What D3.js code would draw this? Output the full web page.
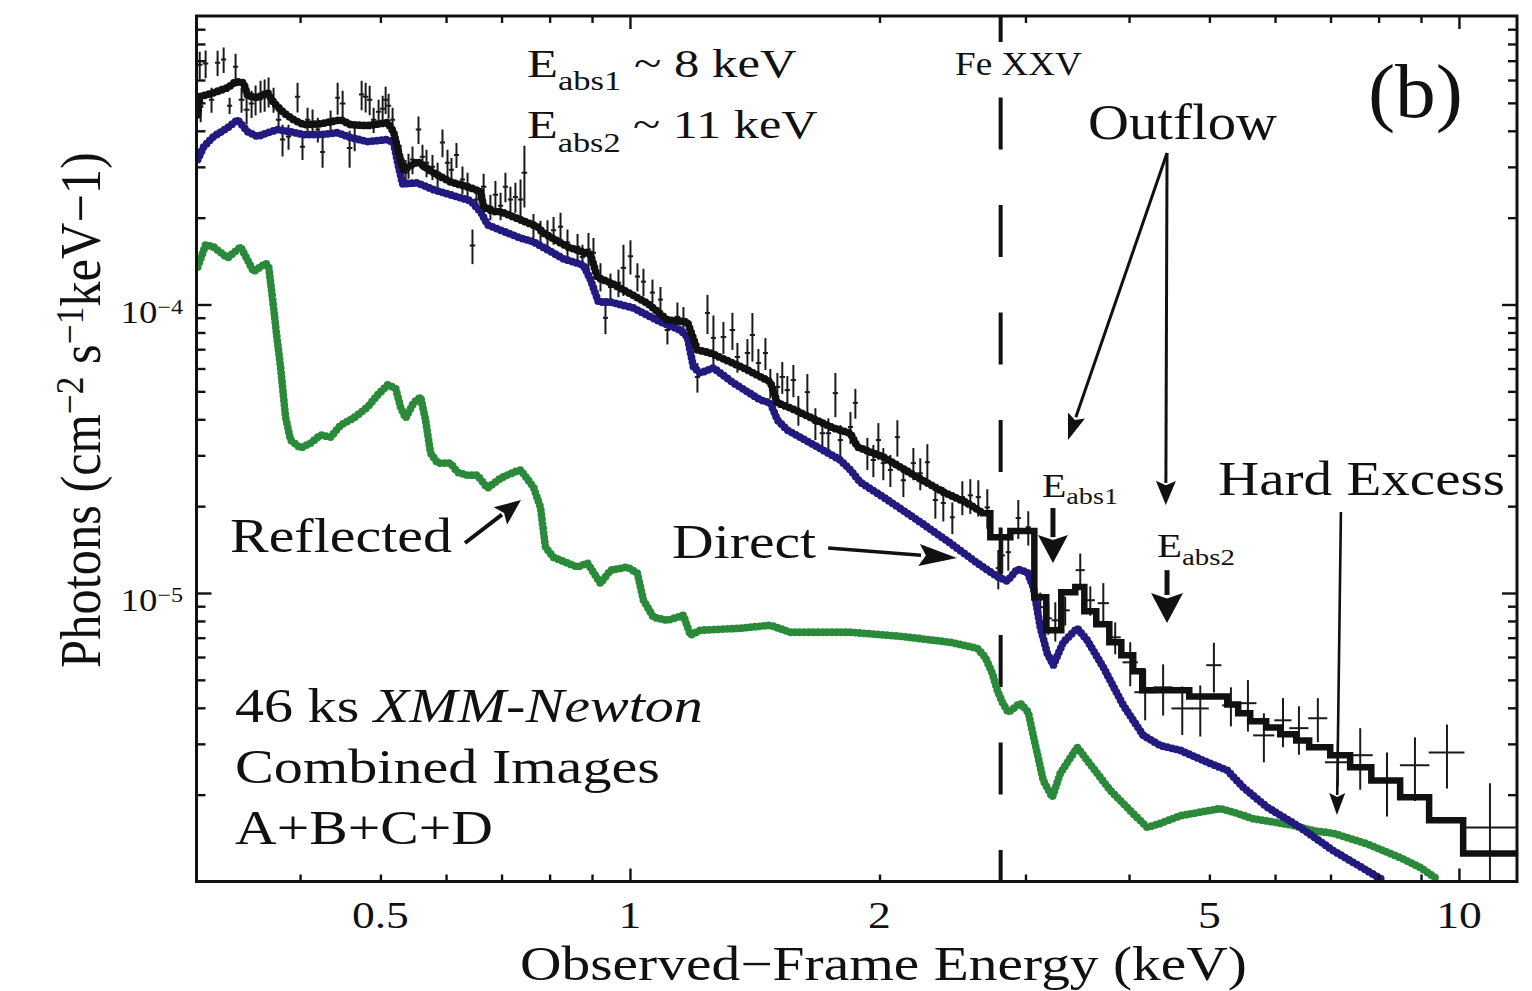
<!DOCTYPE html>
<html>
<head>
<meta charset="utf-8">
<script src="https://cdn.jsdelivr.net/npm/d3@7"></script>
<style>
  html, body { margin: 0; padding: 0; background: #fff; }
  svg { display: block; font-family: "Liberation Serif", "Times New Roman", serif; }
</style>
</head>
<body>
<svg id="chart" width="1532" height="991"></svg>
<script>
// ---------------------------------------------------------------
// Axis limits and ticks
// ---------------------------------------------------------------
const energyRange = [0.3, 11.75];          // keV
const fluxRange = [1e-6, 1e-3];            // photons cm^-2 s^-1 keV^-1
const xLabelTicks = [0.5, 1, 2, 5, 10];
const xLabelText = ["0.5", "1", "2", "5", "10"];
const xMajorTicks = [1, 10];
const xMinorTicks = [0.4, 0.5, 0.6, 0.7, 0.8, 0.9, 2, 3, 4, 5, 6, 7, 8, 9];
const yMajorTicks = [1e-5, 1e-4];
const yMajorExponent = ["\u22125", "\u22124"];
const yMinorTicks = [2e-6, 3e-6, 4e-6, 5e-6, 6e-6, 7e-6, 8e-6, 9e-6,
                     2e-5, 3e-5, 4e-5, 5e-5, 6e-5, 7e-5, 8e-5, 9e-5,
                     2e-4, 3e-4, 4e-4, 5e-4, 6e-4, 7e-4, 8e-4, 9e-4];

// ---------------------------------------------------------------
// Binned spectrum (combined images A+B+C+D)
// ---------------------------------------------------------------
const dataEnergy = [
  0.3027,0.3035,0.3077,0.3128,0.3181,0.3235,0.3289,0.3344,0.3400,0.3448,
  0.3496,0.3535,0.3584,0.3625,0.3665,0.3716,0.3768,0.3810,0.3874,0.3972,
  0.4027,0.4084,0.4141,0.4202,0.4258,0.4354,0.4440,0.4502,0.4590,0.4655,
  0.4746,0.4799,0.4853,0.4907,0.4975,0.5031,0.5073,0.5115,0.5172,0.5288,
  0.5362,0.5406,0.5466,0.5558,0.5620,0.5683,0.5778,0.5861,0.5941,0.6024,
  0.6091,0.6176,0.6280,0.6369,0.6457,0.6529,0.6660,0.6787,0.6882,0.6981,
  0.7076,0.7175,0.7275,0.7379,0.7459,0.7649,0.7800,0.7953,0.8088,0.8246,
  0.8407,0.8645,0.8764,0.8912,0.9036,0.9214,0.9342,0.9473,0.9686,0.9821,
  1.0014,1.0210,1.0382,1.0645,1.0884,1.1097,1.1409,1.1602,1.2061,1.2403,
  1.2609,1.2964,1.3292,1.3478,1.3858,1.4051,1.4287,1.4568,1.4768,1.5060,
  1.5267,1.5484,1.5745,1.5964,1.6368,1.6737,1.7066,1.7352,1.7693,1.7937,
  1.8450,1.8703,1.9337,1.9662,1.9937,2.0213,2.0613,2.1018,2.1371,2.1973,
  2.2398,2.2843,2.3356,2.3878,2.4484,2.5173,2.5738,2.6316,2.6981,2.7818,
  2.8128,2.8601,2.9406,3.0232,3.126,3.196,3.259,3.350,3.493,3.592,
  3.724,3.849,4.013,4.183,4.397,4.637,4.875,5.063,5.308,5.565,
  5.817,6.134,6.412,6.758,7.144,7.602,8.189,8.850,9.673,10.90
];
const dataEnergyErr = [
  0.0018,0.0018,0.0018,0.0018,0.0018,0.0018,0.0018,0.0018,0.0022,0.0022,
  0.0022,0.0022,0.0022,0.0022,0.0022,0.0022,0.0022,0.0022,0.0022,0.0022,
  0.0022,0.0022,0.0022,0.0022,0.0022,0.0022,0.0022,0.0028,0.0028,0.0028,
  0.0028,0.0028,0.0028,0.0028,0.0028,0.0028,0.0028,0.0028,0.0028,0.0028,
  0.0028,0.0028,0.0028,0.0033,0.0033,0.0033,0.0033,0.0033,0.0033,0.0033,
  0.0033,0.0033,0.0033,0.0033,0.0039,0.0039,0.0039,0.0039,0.0039,0.0039,
  0.0039,0.0039,0.0039,0.0045,0.0045,0.0045,0.0045,0.0045,0.0045,0.0045,
  0.0045,0.0050,0.0050,0.0050,0.0050,0.0050,0.0050,0.0050,0.0057,0.0057,
  0.0057,0.0057,0.0057,0.0057,0.0057,0.0067,0.0067,0.0067,0.0067,0.0067,
  0.0067,0.0078,0.0078,0.0078,0.0078,0.0078,0.0078,0.0078,0.0078,0.0090,
  0.0090,0.0090,0.0090,0.0090,0.0090,0.0100,0.0100,0.0100,0.0100,0.0100,
  0.0100,0.0100,0.0110,0.0110,0.0110,0.0110,0.0110,0.0110,0.0120,0.0120,
  0.0120,0.0120,0.0130,0.0130,0.0130,0.0145,0.0145,0.0145,0.0155,0.0155,
  0.0155,0.0155,0.0165,0.0165,0.026,0.027,0.027,0.037,0.039,0.040,
  0.052,0.053,0.078,0.117,0.110,0.129,0.108,0.098,0.118,0.124,
  0.162,0.136,0.160,0.168,0.241,0.256,0.322,0.348,0.464,0.84
];
const dataFlux = [
  6.78e-4,4.85e-4,6.84e-4,5.13e-4,6.89e-4,7.06e-4,4.89e-4,6.67e-4,5.13e-4,4.73e-4,
  4.97e-4,5.13e-4,5.29e-4,5.34e-4,5.47e-4,5.13e-4,4.37e-4,3.73e-4,3.82e-4,5.25e-4,
  3.52e-4,4.37e-4,4.27e-4,4.04e-4,3.38e-4,4.27e-4,5.21e-4,4.97e-4,3.49e-4,3.82e-4,
  5.34e-4,5.25e-4,5.13e-4,4.37e-4,4.66e-4,4.77e-4,5.13e-4,4.89e-4,4.37e-4,3.25e-4,
  2.86e-4,3.03e-4,3.18e-4,4.04e-4,3.25e-4,3.10e-4,3.00e-4,2.82e-4,3.64e-4,3.10e-4,
  2.93e-4,3.30e-4,2.71e-4,2.60e-4,1.60e-4,2.31e-4,2.56e-4,2.18e-4,2.40e-4,2.20e-4,
  2.56e-4,2.31e-4,2.36e-4,2.31e-4,2.86e-4,1.86e-4,1.77e-4,1.77e-4,1.81e-4,1.86e-4,
  1.64e-4,1.585e-4,1.46e-4,1.55e-4,1.51e-4,1.25e-4,8.99e-5,1.15e-4,1.19e-4,1.34e-4,
  1.47e-4,1.25e-4,1.20e-4,1.10e-4,1.04e-4,8.16e-5,9.06e-5,8.84e-5,5.61e-5,9.35e-5,
  7.66e-5,7.72e-5,8.16e-5,6.58e-5,6.79e-5,7.84e-5,6.27e-5,6.79e-5,5.35e-5,5.18e-5,
  5.61e-5,5.05e-5,5.47e-5,4.31e-5,4.97e-5,3.88e-5,3.58e-5,3.58e-5,4.93e-5,3.39e-5,
  3.76e-5,4.56e-5,3.06e-5,2.89e-5,3.39e-5,2.82e-5,2.67e-5,3.47e-5,2.46e-5,2.82e-5,
  2.60e-5,2.84e-5,2.10e-5,2.05e-5,1.83e-5,2.15e-5,2.18e-5,2.15e-5,1.98e-5,1.22e-5,
  1.35e-5,1.385e-5,1.82e-5,1.69e-5,8.93e-6,8.17e-6,8.04e-6,8.71e-6,1.20e-5,9.44e-6,
  9.22e-6,7.02e-6,5.75e-6,4.53e-6,4.71e-6,3.98e-6,3.98e-6,5.62e-6,4.08e-6,4.15e-6,
  3.21e-6,3.62e-6,3.40e-6,3.68e-6,2.59e-6,2.74e-6,2.24e-6,2.53e-6,2.80e-6,1.54e-6
];
const dataFluxErr = [
  7.4e-5,5.7e-5,7.5e-5,5.1e-5,6.9e-5,7.1e-5,3.2e-5,7.3e-5,5.1e-5,5.2e-5,
  5.4e-5,6.1e-5,6.7e-5,6.8e-5,6.5e-5,5.1e-5,4.4e-5,4.7e-5,3.8e-5,6.2e-5,
  3.5e-5,4.4e-5,4.7e-5,4.0e-5,4.0e-5,4.3e-5,6.6e-5,5.4e-5,5.1e-5,4.2e-5,
  6.3e-5,6.2e-5,6.0e-5,4.4e-5,4.7e-5,5.2e-5,5.6e-5,4.9e-5,4.4e-5,3.3e-5,
  3.1e-5,3.0e-5,3.5e-5,4.4e-5,3.3e-5,3.4e-5,3.0e-5,2.8e-5,4.0e-5,3.4e-5,
  2.9e-5,3.3e-5,3.0e-5,2.6e-5,2.2e-5,2.3e-5,2.8e-5,2.2e-5,2.8e-5,2.4e-5,
  3.0e-5,2.5e-5,2.8e-5,4.0e-5,6.9e-5,2.0e-5,1.8e-5,1.9e-5,2.0e-5,2.2e-5,
  1.8e-5,1.7e-5,1.5e-5,2.2e-5,1.9e-5,1.4e-5,1.1e-5,1.3e-5,1.3e-5,2.7e-5,
  2.0e-5,1.4e-5,1.3e-5,1.2e-5,1.1e-5,8.9e-6,1.1e-5,9.6e-6,6.6e-6,1.45e-5,
  1.5e-5,9.8e-6,1.2e-5,7.8e-6,8.0e-6,1.5e-5,7.4e-6,8.6e-6,6.3e-6,6.1e-6,
  7.1e-6,6.0e-6,7.0e-6,5.1e-6,7.7e-6,4.9e-6,4.2e-6,4.5e-6,8.6e-6,4.3e-6,
  4.8e-6,5.4e-6,3.9e-6,3.7e-6,4.9e-6,3.6e-6,3.4e-6,5.0e-6,3.1e-6,3.6e-6,
  3.3e-6,4.4e-6,2.9e-6,2.8e-6,2.3e-6,2.9e-6,3.0e-6,3.1e-6,3.1e-6,1.9e-6,
  1.8e-6,1.9e-6,2.8e-6,2.3e-6,1.1e-6,1.0e-6,1.25e-6,1.0e-6,1.7e-6,1.1e-6,
  1.6e-6,8.9e-7,1.0e-6,9.1e-7,9.5e-7,7.6e-7,8.0e-7,1.1e-6,6.3e-7,8.4e-7,
  6.2e-7,7.0e-7,6.5e-7,6.4e-7,4.5e-7,6.6e-7,5.6e-7,6.3e-7,7.0e-7,6.5e-7
];

// ---------------------------------------------------------------
// Model components
// ---------------------------------------------------------------
// Direct (absorbed power law) component
const directEnergy = [
  0.301,0.306,0.3145,0.3271,0.3363,0.3458,0.3555,0.3655,0.3758,0.3896,
  0.404,0.4234,0.4439,0.4603,0.4825,0.5101,0.5186,0.5259,0.5318,0.5543,
  0.5795,0.6076,0.6422,0.6604,0.6732,0.6981,0.7379,0.7649,0.8314,0.8789,
  0.8962,0.9163,0.9473,1.0097,1.0884,1.1505,1.173,1.1928,1.2162,1.2609,
  1.3327,1.4365,1.4768,1.506,1.5484,1.6829,1.7937,1.845,1.8961,2.0213,
  2.2217,2.4345,2.6242,2.7741,2.8524,2.9325,3.0151,3.0655,3.1261,3.1871,
  3.2411,3.3321,3.4641,3.5611,3.7239,3.9368,4.161,4.3623,4.6112,4.971,
  5.2541,5.4935,5.8705,6.4348,7.0522,7.7504,8.1022
];
const directFlux = [
  3.18e-4,3.52e-4,3.82e-4,4.10e-4,4.37e-4,3.97e-4,3.82e-4,3.94e-4,4.04e-4,3.97e-4,
  3.88e-4,3.88e-4,3.94e-4,3.79e-4,3.67e-4,3.73e-4,3.64e-4,3.00e-4,2.62e-4,2.64e-4,
  2.50e-4,2.40e-4,2.29e-4,2.10e-4,1.89e-4,1.81e-4,1.70e-4,1.65e-4,1.44e-4,1.37e-4,
  1.22e-4,1.02e-4,1.02e-4,9.73e-5,8.70e-5,8.16e-5,7.72e-5,6.07e-5,5.79e-5,6.03e-5,
  5.35e-5,4.67e-5,4.56e-5,3.98e-5,3.67e-5,3.21e-5,2.89e-5,2.67e-5,2.42e-5,2.15e-5,
  1.79e-5,1.49e-5,1.27e-5,1.14e-5,1.10e-5,1.21e-5,1.18e-5,1.05e-5,7.61e-6,6.18e-6,
  5.62e-6,6.75e-6,7.55e-6,6.86e-6,5.53e-6,4.08e-6,3.21e-6,2.96e-6,2.85e-6,2.59e-6,
  2.43e-6,2.12e-6,1.81e-6,1.54e-6,1.28e-6,1.09e-6,1.01e-6
];

// Reflected component
const reflectedEnergy = [
  0.301,0.3077,0.3145,0.3271,0.3391,0.3516,0.3636,0.3666,0.3707,0.3748,
  0.3789,0.3842,0.3896,0.4006,0.4119,0.4234,0.4354,0.4476,0.4641,0.4825,
  0.4961,0.5101,0.5215,0.5288,0.5362,0.5482,0.5590,0.5668,0.5747,0.5861,
  0.6076,0.6194,0.6369,0.6547,0.6732,0.6981,0.7236,0.7379,0.7649,0.7800,
  0.7909,0.8088,0.8407,0.8645,0.8887,0.9214,0.9473,0.9931,1.0210,1.0382,
  1.0674,1.1097,1.1601,1.1830,1.2162,1.3590,1.4768,1.5616,1.8450,2.1189,
  2.4345,2.6242,2.6835,2.7360,2.7741,2.8132,2.8603,2.9572,3.0234,3.0655,
  3.1520,3.2319,3.3045,3.4641,3.5611,3.7970,4.0465,4.2073,4.3623,4.6112,
  4.8745,5.1523,5.3423,5.6473,6.0363,6.3109,6.6711,7.0522,7.7504,8.4938,
  8.9785,9.4123
];
const reflectedFlux = [
  1.35e-4,1.61e-4,1.585e-4,1.45e-4,1.585e-4,1.30e-4,1.39e-4,1.35e-4,1.04e-4,7.84e-5,
  6.07e-5,4.07e-5,3.39e-5,3.18e-5,3.31e-5,3.53e-5,3.47e-5,3.82e-5,4.04e-5,4.41e-5,
  4.86e-5,5.26e-5,5.13e-5,4.41e-5,4.04e-5,4.56e-5,4.78e-5,3.98e-5,3.06e-5,2.82e-5,
  2.82e-5,2.62e-5,2.56e-5,2.56e-5,2.31e-5,2.50e-5,2.62e-5,2.67e-5,2.33e-5,1.98e-5,
  1.44e-5,1.33e-5,1.27e-5,1.23e-5,1.27e-5,1.08e-5,1.20e-5,1.23e-5,1.17e-5,9.44e-6,
  8.24e-6,8.04e-6,8.37e-6,7.14e-6,7.43e-6,7.55e-6,7.73e-6,7.31e-6,7.31e-6,7.08e-6,
  6.75e-6,6.43e-6,5.98e-6,5.27e-6,4.60e-6,4.18e-6,3.86e-6,4.15e-6,3.86e-6,3.21e-6,
  2.24e-6,1.96e-6,2.37e-6,2.92e-6,2.63e-6,2.07e-6,1.72e-6,1.54e-6,1.59e-6,1.69e-6,
  1.74e-6,1.79e-6,1.74e-6,1.65e-6,1.60e-6,1.565e-6,1.50e-6,1.47e-6,1.35e-6,1.21e-6,
  1.12e-6,1.02e-6
];

// Total model: finely sampled below 2.67 keV, then the coarse spectral bins
const totalEnergy = [
  0.3010,0.3027,0.3145,0.3271,0.3344,0.3420,0.3458,0.3555,0.3655,0.3717,
  0.3822,0.3929,0.4040,0.4234,0.4476,0.4603,0.4825,0.5101,0.5186,0.5259,
  0.5333,0.5543,0.5795,0.6076,0.6422,0.6604,0.6660,0.6846,0.6981,0.7735,
  0.7865,0.8407,0.8962,0.9138,0.9473,1.0498,1.1097,1.1730,1.2061,1.2506,
  1.3703,1.4768,1.5060,1.5616,1.7593,1.8450,1.8807,2.0213,2.2217,2.3878,
  2.5527,2.6686
];
const totalFlux = [
  4.55e-4,5.25e-4,5.42e-4,5.64e-4,5.92e-4,5.87e-4,5.29e-4,5.21e-4,5.42e-4,5.01e-4,
  4.62e-4,4.37e-4,4.20e-4,4.23e-4,4.37e-4,4.20e-4,4.17e-4,4.27e-4,3.97e-4,3.36e-4,
  2.93e-4,3.13e-4,2.86e-4,2.66e-4,2.54e-4,2.46e-4,2.18e-4,2.10e-4,2.10e-4,1.86e-4,
  1.77e-4,1.585e-4,1.49e-4,1.24e-4,1.19e-4,1.01e-4,8.84e-5,8.70e-5,6.96e-5,6.79e-5,
  6.03e-5,5.39e-5,4.56e-5,4.38e-5,3.73e-5,3.58e-5,3.21e-5,2.96e-5,2.52e-5,2.24e-5,
  2.05e-5,1.89e-5
];
const totalBinEdges = [
  2.6686,2.7208,2.8765,3.0747,3.1783,3.3137,3.4452,3.5326,3.6518,3.7865,
  3.9150,4.0465,4.1495,4.7282,5.2541,5.4165,5.6002,5.8543,6.0874,6.3638,
  6.5966,6.9940,7.3925,7.8397,8.4938,9.2050,10.118,11.75
];
const totalBinFlux = [
  1.89e-5,1.56e-5,1.64e-5,9.67e-6,7.43e-6,1.006e-5,1.05e-5,8.64e-6,7.79e-6,6.75e-6,
  6.08e-6,5.35e-6,4.60e-6,4.38e-6,4.11e-6,3.83e-6,3.59e-6,3.42e-6,3.24e-6,3.08e-6,
  2.92e-6,2.74e-6,2.49e-6,2.24e-6,1.96e-6,1.63e-6,1.25e-6
];

// Fe XXV line, observed frame
const feXXVEnergy = 2.80;

// ---------------------------------------------------------------
// Layout
// ---------------------------------------------------------------
const frame = { left: 196.5, right: 1517, top: 16, bottom: 881.5 };
const svg = d3.select("#chart");
svg.append("rect").attr("width", 1532).attr("height", 991).attr("fill", "#fff");

const x = d3.scaleLog().domain(energyRange).range([frame.left, frame.right]);
const y = d3.scaleLog().domain(fluxRange).range([frame.bottom, frame.top]);

svg.append("defs").append("clipPath").attr("id", "plotClip")
  .append("rect")
  .attr("x", frame.left).attr("y", frame.top)
  .attr("width", frame.right - frame.left)
  .attr("height", frame.bottom - frame.top);

const plot = svg.append("g").attr("clip-path", "url(#plotClip)");

// Fe XXV marker (dashed)
plot.append("line")
  .attr("x1", x(feXXVEnergy)).attr("x2", x(feXXVEnergy))
  .attr("y1", frame.top).attr("y2", frame.bottom)
  .attr("stroke", "#111").attr("stroke-width", 4)
  .attr("stroke-dasharray", "52 55.5").attr("stroke-dashoffset", 26);

// Data crosses
const data = dataEnergy.map((e, i) => ({
  e, de: dataEnergyErr[i], f: dataFlux[i], df: dataFluxErr[i]
}));
const crosses = plot.append("g").attr("stroke", "#1a1a1a").attr("stroke-width", 2);
crosses.selectAll("line.ybar").data(data).join("line").attr("class", "ybar")
  .attr("x1", d => x(d.e)).attr("x2", d => x(d.e))
  .attr("y1", d => y(d.f + d.df))
  .attr("y2", d => (d.f - d.df) > 0 ? y(Math.max(d.f - d.df, 1e-7)) : frame.bottom + 20);
crosses.selectAll("line.xbar").data(data).join("line").attr("class", "xbar")
  .attr("x1", d => x(d.e - d.de) - 0.6).attr("x2", d => x(d.e + d.de) + 0.6)
  .attr("y1", d => y(d.f)).attr("y2", d => y(d.f));

// Model curves (beaded strokes for the smooth components)
const line = d3.line().x(d => x(d[0])).y(d => y(d[1]));

const reflected = reflectedEnergy.map((e, i) => [e, reflectedFlux[i]]);
const direct = directEnergy.map((e, i) => [e, directFlux[i]]);

function beaded(points, colour) {
  plot.append("path").attr("d", line(points))
    .attr("fill", "none").attr("stroke", colour).attr("stroke-width", 5.2)
    .attr("stroke-linejoin", "round");
  plot.append("path").attr("d", line(points))
    .attr("fill", "none").attr("stroke", colour).attr("stroke-width", 7.8)
    .attr("stroke-linecap", "round").attr("stroke-linejoin", "round")
    .attr("stroke-dasharray", "0 4.6");
}
beaded(reflected, "#2a8a3a");
beaded(direct, "#231a80");

// Total model: beaded where finely sampled, solid steps over the coarse bins
const totalFine = totalEnergy.map((e, i) => [e, totalFlux[i]]);
beaded(totalFine, "#111");
const totalSteps = [];
totalBinFlux.forEach((f, i) => {
  totalSteps.push([totalBinEdges[i], f]);
  totalSteps.push([totalBinEdges[i + 1], f]);
});
plot.append("path").attr("d", line(totalSteps))
  .attr("fill", "none").attr("stroke", "#111").attr("stroke-width", 6.5)
  .attr("stroke-linejoin", "miter").attr("stroke-linecap", "square");

// ---------------------------------------------------------------
// Axes (ticks on all four sides, pointing inward)
// ---------------------------------------------------------------
function tickGroup(axis, transform) {
  const g = svg.append("g").attr("transform", transform).call(axis);
  g.select(".domain").remove();
  g.selectAll("text").remove();
  g.selectAll("line").attr("stroke", "#111").attr("stroke-width", 2.4);
  return g;
}
tickGroup(d3.axisBottom(x).tickValues(xMinorTicks).tickSize(-7), `translate(0,${frame.bottom})`);
tickGroup(d3.axisBottom(x).tickValues(xMajorTicks).tickSize(-13), `translate(0,${frame.bottom})`);
tickGroup(d3.axisTop(x).tickValues(xMinorTicks).tickSize(-7), `translate(0,${frame.top})`);
tickGroup(d3.axisTop(x).tickValues(xMajorTicks).tickSize(-13), `translate(0,${frame.top})`);
tickGroup(d3.axisLeft(y).tickValues(yMinorTicks).tickSize(-9), `translate(${frame.left},0)`);
tickGroup(d3.axisLeft(y).tickValues(yMajorTicks).tickSize(-15), `translate(${frame.left},0)`);
tickGroup(d3.axisRight(y).tickValues(yMinorTicks).tickSize(-9), `translate(${frame.right},0)`);
tickGroup(d3.axisRight(y).tickValues(yMajorTicks).tickSize(-15), `translate(${frame.right},0)`);

svg.append("rect")
  .attr("x", frame.left).attr("y", frame.top)
  .attr("width", frame.right - frame.left).attr("height", frame.bottom - frame.top)
  .attr("fill", "none").attr("stroke", "#111").attr("stroke-width", 3);

// Tick labels
xLabelTicks.forEach((v, i) => {
  svg.append("text")
    .attr("transform", `translate(${x(v)},928) scale(1.2,1)`)
    .attr("text-anchor", "middle").attr("font-size", 38).attr("fill", "#111")
    .text(xLabelText[i]);
});
yMajorTicks.forEach((v, i) => {
  const t = svg.append("text")
    .attr("transform", `translate(183,${y(v) + 18}) scale(1.15,1)`)
    .attr("text-anchor", "end").attr("font-size", 32).attr("fill", "#111");
  t.append("tspan").text("10");
  t.append("tspan").attr("font-size", 21).attr("dy", -9).text(yMajorExponent[i]);
});

// ---------------------------------------------------------------
// Text helpers
// ---------------------------------------------------------------
const ann = svg.append("g").attr("fill", "#111");

function fitText(t, x0, yBase, width) {
  t.attr("transform", `translate(${x0},${yBase})`);
  const w = t.node().getBBox().width;
  t.attr("transform", `translate(${x0},${yBase}) scale(${width / w},1)`);
  return t;
}
function plainText(str, x0, yBase, size, width) {
  const t = ann.append("text").attr("font-size", size).text(str);
  return fitText(t, x0, yBase, width);
}
function subText(main, sub, rest, x0, yBase, size, subSize, shift, width) {
  const t = ann.append("text").attr("font-size", size);
  t.append("tspan").text(main);
  t.append("tspan").attr("font-size", subSize).attr("dy", shift).text(sub);
  if (rest) t.append("tspan").attr("dy", -shift).text(rest);
  return fitText(t, x0, yBase, width);
}

// Axis titles
fitText(ann.append("text").attr("font-size", 48).text("Observed\u2212Frame Energy (keV)"), 520, 980, 727);

const yTitle = ann.append("text").attr("font-size", 50).attr("text-anchor", "middle");
yTitle.append("tspan").text("Photons (cm");
yTitle.append("tspan").attr("font-size", 35).attr("dy", -15).text("\u22122");
yTitle.append("tspan").attr("dy", 15).text(" s");
yTitle.append("tspan").attr("font-size", 35).attr("dy", -15).text("\u22121");
yTitle.append("tspan").attr("dy", 15).text("keV\u22121)");
{
  const w = yTitle.node().getBBox().width;
  yTitle.attr("transform", `translate(100,410) scale(1.15,1) rotate(-90) scale(${516 / w},1)`);
}

// Annotations
subText("E", "abs1", " ~ 8 keV", 527, 77, 41, 28, 13, 270);
subText("E", "abs2", " ~ 11 keV", 527, 138, 41, 28, 14, 291);
plainText("Fe XXV", 955, 75, 33, 127);
plainText("(b)", 1368, 117, 76, 95);
plainText("Outflow", 1088, 139, 50, 189);
plainText("Hard Excess", 1218, 495, 48, 287);
plainText("Reflected", 230, 552, 48, 222);
plainText("Direct", 672, 558, 48, 145);
subText("E", "abs1", null, 1042, 497, 34, 24, 7, 76);
subText("E", "abs2", null, 1157, 557, 34, 24, 8, 78);

{
  const t = ann.append("text").attr("font-size", 48);
  t.append("tspan").text("46 ks ");
  t.append("tspan").attr("font-style", "italic").text("XMM-Newton");
  fitText(t, 235, 722, 468);
}
plainText("Combined Images", 235, 783, 48, 425);
plainText("A+B+C+D", 235, 844, 48, 258);

// Arrows, anchored in energy/flux coordinates
function arrow(from, to, stroke, headLen, headW) {
  const x0 = x(from[0]), y0 = y(from[1]), x1 = x(to[0]), y1 = y(to[1]);
  const dx = x1 - x0, dy = y1 - y0, len = Math.hypot(dx, dy);
  const ux = dx / len, uy = dy / len, px = -uy, py = ux;
  const bx = x1 - ux * headLen, by = y1 - uy * headLen;
  ann.append("line")
    .attr("x1", x0).attr("y1", y0).attr("x2", bx + ux * 2).attr("y2", by + uy * 2)
    .attr("stroke", "#111").attr("stroke-width", stroke);
  ann.append("path")
    .attr("d", `M${x1},${y1}L${bx + px * headW / 2},${by + py * headW / 2}` +
               `L${bx + ux * headLen * 0.18},${by + uy * headLen * 0.18}` +
               `L${bx - px * headW / 2},${by - py * headW / 2}Z`)
    .attr("fill", "#111");
}
arrow([4.445, 3.35e-4], [3.376, 3.39e-5], 3, 26, 18);   // Outflow -> Eabs1
arrow([4.445, 3.35e-4], [4.43, 2.02e-5], 3, 24, 20);    // Outflow -> Eabs2
arrow([3.238, 1.97e-5], [3.238, 1.27e-5], 5, 28, 30);   // Eabs1
arrow([4.445, 1.20e-5], [4.445, 7.87e-6], 5, 30, 32);   // Eabs2
arrow([7.205, 1.91e-5], [7.126, 1.70e-6], 2.6, 22, 16); // Hard excess
arrow([0.6324, 1.49e-5], [0.7388, 2.10e-5], 4, 26, 22); // Reflected
arrow([1.734, 1.432e-5], [2.480, 1.322e-5], 3.5, 38, 22); // Direct
</script>
</body>
</html>
